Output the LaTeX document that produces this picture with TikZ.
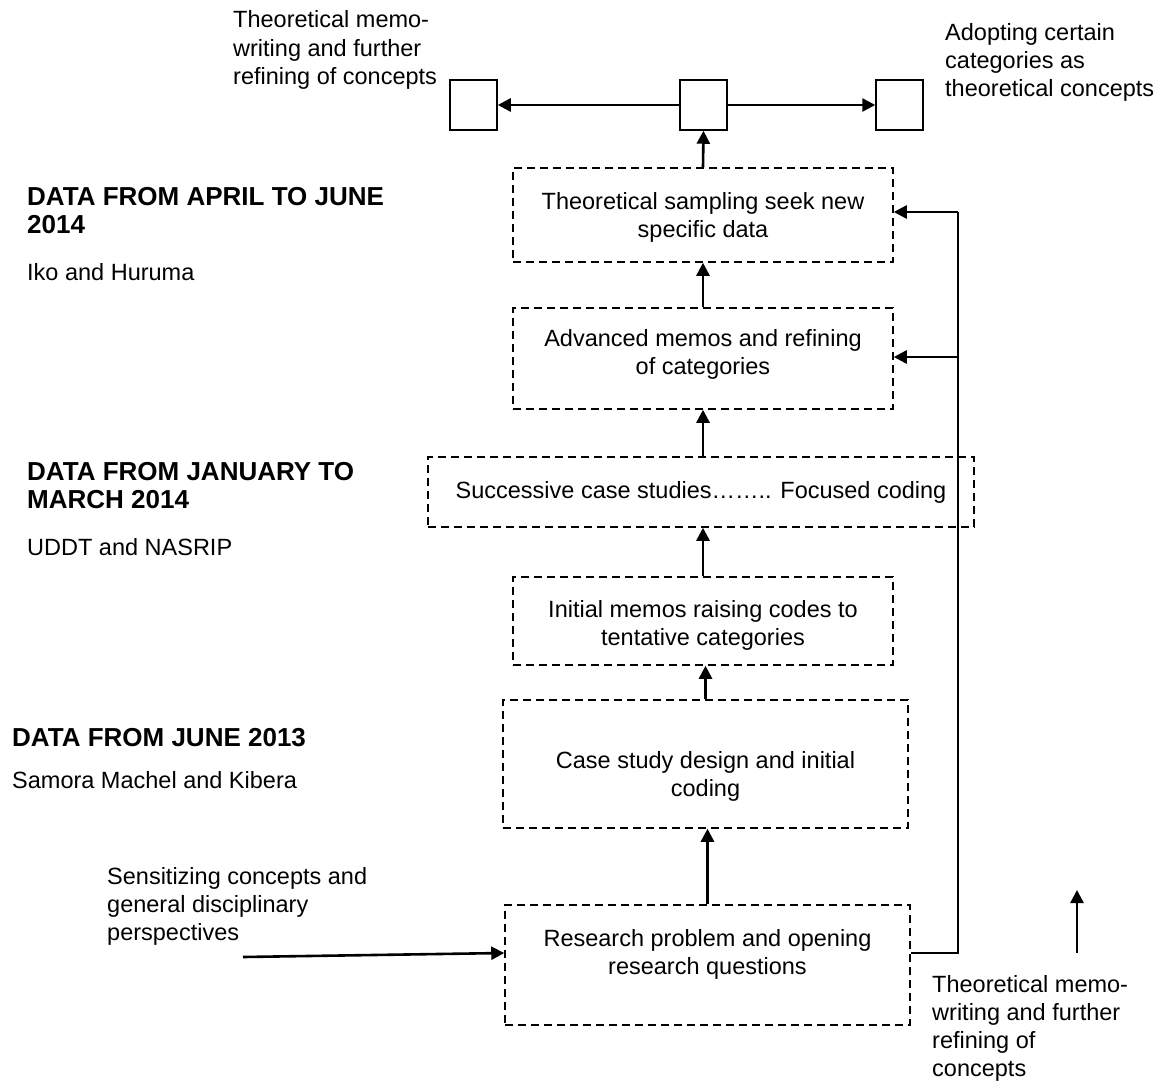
\documentclass[tikz,border=0pt]{standalone}
\usepackage{fontspec}
\setmainfont{Liberation Sans}
\usetikzlibrary{arrows.meta,calc}

\begin{document}
\begin{tikzpicture}[x=1pt,y=-1pt,
  every node/.style={font=\fontsize{23.5}{28}\selectfont, inner sep=0pt},
  stagebox/.style={draw, line width=1.5pt, dash pattern=on 8pt off 5pt, rectangle},
  smallbox/.style={draw, line width=1.5pt, rectangle, minimum width=47pt, minimum height=50pt},
  boxtext/.style={align=center},
  note/.style={align=left, anchor=west},
  head/.style={anchor=west, align=left, font=\fontsize{26}{28}\selectfont\bfseries},
  arr/.style={line width=2.6pt, -{Triangle[length=13pt,width=13pt]}},
  link/.style={line width=2.6pt}]
\useasboundingbox (0,0) rectangle (1168,1082);

% top row of outcome boxes
\node[smallbox] (lb) at (473.5,105) {};
\node[smallbox] (mb) at (703.5,105) {};
\node[smallbox] (rb) at (899.5,105) {};
\draw[arr] (mb.west) -- (lb.east);
\draw[arr] (mb.east) -- (rb.west);

\node[note, font=\fontsize{23.5}{28.5}\selectfont] (tl) at (233,50) {Theoretical memo-\\writing and further\\refining of concepts};
\node[note] (tr) at (945,62) {Adopting certain\\categories as\\theoretical concepts};

% stages of the analysis
\node[stagebox, minimum width=380pt, minimum height=94pt] (s1) at (703,215) {};
\node[boxtext] (t1) at (703,217) {Theoretical sampling seek new\\specific data};

\node[stagebox, minimum width=380pt, minimum height=101pt] (s2) at (703,358.5) {};
\node[boxtext] (t2) at (703,354) {Advanced memos and refining\\of categories};

\node[stagebox, minimum width=546pt, minimum height=70pt] (s3) at (701,492) {};
\node[boxtext] (t3) at (701,492) {Successive case studies…….. Focused coding};

\node[stagebox, minimum width=380pt, minimum height=88pt] (s4) at (703,621) {};
\node[boxtext] (t4) at (703,625) {Initial memos raising codes to\\tentative categories};

\node[stagebox, minimum width=405pt, minimum height=128pt] (s5) at (705.5,764) {};
\node[boxtext] (t5) at (705.5,776) {Case study design and initial\\coding};

\node[stagebox, minimum width=405pt, minimum height=120pt] (s6) at (707.5,965) {};
\node[boxtext] (t6) at (707.5,954) {Research problem and opening\\research questions};

% upward flow between stages
\draw[arr] (s1.north) -- (mb.south);
\draw[arr] (s2.north) -- (s1.south);
\draw[arr] (s3.north -| s2.north) -- (s2.south);
\draw[arr] (s4.north) -- (s3.south -| s4.north);
\draw[arr] (s5.north) -- (s4.south -| s5.north);
\draw[arr] (s6.north) -- (s5.south -| s6.north);

% feedback rail on the right
\coordinate (railbot) at (958,953);
\coordinate (railtop) at (958,212);
\coordinate (railmid) at (958,357);
\draw[link] ($(s6.east)+(0,-12)$) -- (railbot) -- (railtop);
\draw[arr] (railtop) -- (s1.east |- railtop);
\draw[arr] (railmid) -- (s2.east |- railmid);

% input from the left
\coordinate (inl) at (243,957);
\draw[arr] (inl) -- ($(s6.west)+(0,-12)$);
\node[note] (sens) at (107,906) {Sensitizing concepts and\\general disciplinary\\perspectives};

% lone arrow at the bottom right
\coordinate (ua) at (1077,953);
\coordinate (ub) at (1077,890);
\draw[arr] (ua) -- (ub);
\node[note] (br) at (932,1028) {Theoretical memo-\\writing and further\\refining of\\concepts};

% data periods
\node[head] (h1) at (27,211) {DATA FROM APRIL TO JUNE\\2014};
\node[note] (c1) at (27,272) {Iko and Huruma};
\node[head] (h2) at (27,486) {DATA FROM JANUARY TO\\MARCH 2014};
\node[note] (c2) at (27,547) {UDDT and NASRIP};
\node[head] (h3) at (12,738) {DATA FROM JUNE 2013};
\node[note] (c3) at (12,780) {Samora Machel and Kibera};
\end{tikzpicture}
\end{document}
